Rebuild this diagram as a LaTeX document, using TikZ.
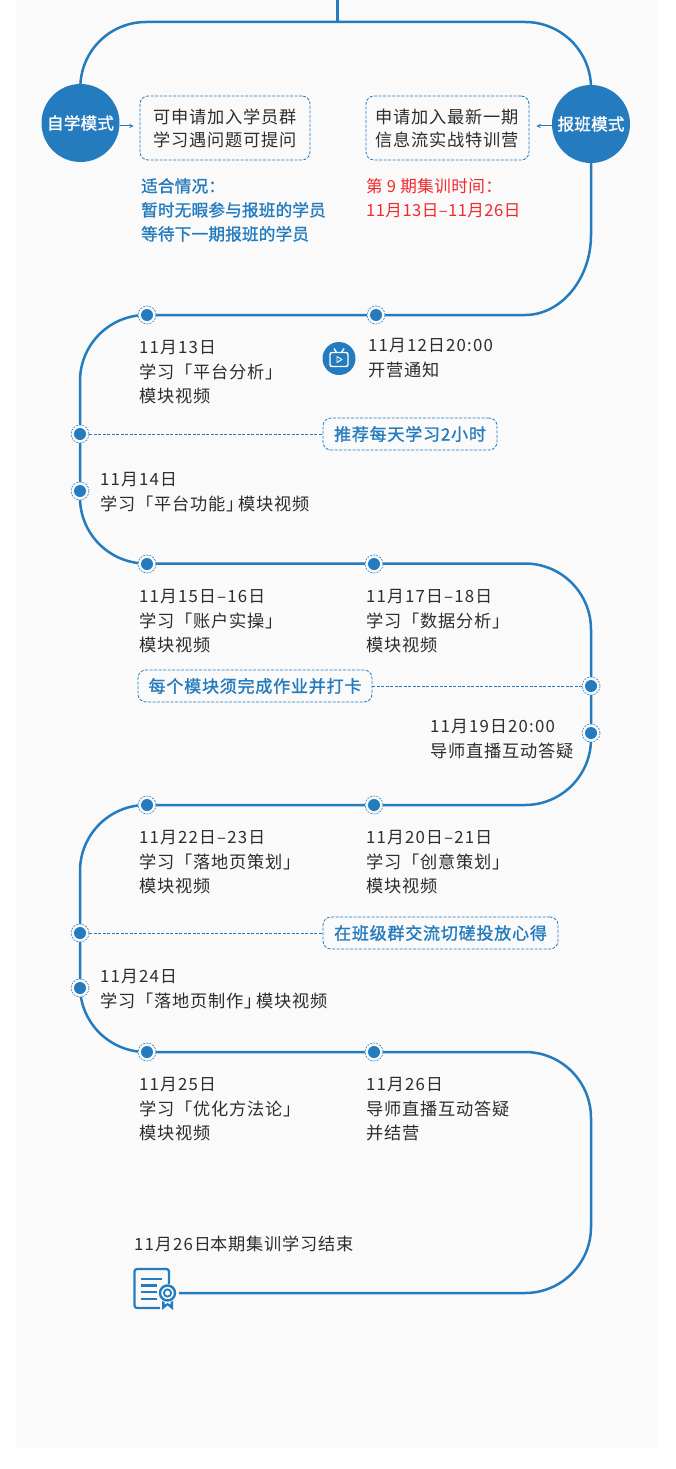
\documentclass[tikz,border=0pt]{standalone}
\usepackage{fontspec}
\setmainfont{Noto Sans CJK SC}[LetterSpace=4.6]
\newfontfamily\hintfont{Noto Sans CJK SC}[LetterSpace=1.2,FakeBold=1.3]
\newfontfamily\tipfont{Noto Sans CJK SC}[LetterSpace=4.7,FakeBold=1.3]
\newfontfamily\termfont{Noto Sans CJK SC}[LetterSpace=2.6]
\newfontfamily\datefont{Noto Sans CJK SC}[LetterSpace=7]
\newcommand{\dateline}[1]{{\datefont\fontsize{16.8}{24.6}\selectfont #1}}
\definecolor{route}{RGB}{36,123,189}
\definecolor{panel}{RGB}{250,250,250}
\definecolor{note}{RGB}{45,45,45}
\definecolor{alert}{RGB}{245,40,45}
\usetikzlibrary{
  arrows.meta,
  positioning      % positions like below of node
}
\tikzset{
  >=stealth,  % arrow type
  mainline/.style = {draw=route, line width=2.5pt, rounded corners=66pt},
  dashlink/.style = {draw=route, line width=0.8pt, dash pattern=on 3pt off 1.5pt},
  smallarrow/.style = {->, draw=route, line width=1pt},
  mode/.style = {circle, fill=route, text=white, minimum size=78pt, inner sep=0pt,
    font=\hintfont\fontsize{16.6}{20}\selectfont},
  infobox/.style = {rectangle, rounded corners=8pt, draw=route, line width=0.8pt,
    dash pattern=on 3pt off 1.5pt, fill=panel, minimum height=64pt, inner sep=0pt,
    align=center, text=note, font=\fontsize{17.2}{23}\selectfont},
  tipbox/.style = {infobox, minimum height=32pt, text=route,
    font=\tipfont\fontsize{17}{20}\selectfont},
  stopdot/.style = {circle, draw=route, line width=0.6pt, dash pattern=on 2pt off 1.2pt,
    fill=panel, minimum size=18pt, inner sep=0pt,
    path picture={\fill[route] (path picture bounding box.center) circle (6pt);}},
  notetext/.style = {anchor=north west, inner sep=0pt, align=left, text=note,
    font=\fontsize{17.2}{24.6}\selectfont},
  hinttext/.style = {notetext, text=route, font=\hintfont\fontsize{16.6}{24}\selectfont},
  alerttext/.style = {notetext, text=alert, font=\termfont\fontsize{16.6}{24}\selectfont},
  iconline/.style = {draw=route, line width=2.2pt, rounded corners=2.5pt}
}
\pgfdeclarelayer{background}
\pgfsetlayers{background,main}

\begin{document}
\begin{tikzpicture}[x=1pt, y=-1pt]

  \useasboundingbox (0,0) rectangle (675,1469);

  %% corners of the route
  \coordinate (start) at (337,0);
  \coordinate (fork) at (337,22);
  \coordinate (forkL) at (80,22);
  \coordinate (forkR) at (591,22);
  \coordinate (bendA) at (591,235);
  \coordinate (bendB) at (525,315);
  \coordinate (turnB) at (80,315);
  \coordinate (turnC) at (80,563.5);
  \coordinate (turnD) at (591,563.5);
  \coordinate (turnE) at (591,805);
  \coordinate (turnF) at (80,805);
  \coordinate (turnG) at (80,1052);
  \coordinate (turnH) at (591,1052);
  \coordinate (turnI) at (591,1293);

  %% nodes
  \node[mode] (SELF) at (80.5,123) {自学模式};
  \node[mode] (CLASS) at (591,124) {报班模式};

  \node[infobox, minimum width=170pt] (SELFBOX) at (225,128) {可申请加入学员群\\学习遇问题可提问};
  \node[infobox, minimum width=163pt] (CLASSBOX) at (447.5,128) {申请加入最新一期\\信息流实战特训营};

  \node[hinttext] (SUITS) at (141,178) {适合情况：\\暂时无暇参与报班的学员\\等待下一期报班的学员};
  \node[alerttext] (TERM) at (366,178) {第 9 期集训时间：\\11月13日–11月26日};

  %% stops
  \node[stopdot] (S1) at (147,315) {};
  \node[stopdot] (S2) at (376,315) {};
  \node[stopdot] (S3) at (80,434) {};
  \node[stopdot] (S4) at (80,491) {};
  \node[stopdot] (S5) at (147,564) {};
  \node[stopdot] (S6) at (374,564) {};
  \node[stopdot] (S7) at (591,686) {};
  \node[stopdot] (S8) at (591,733) {};
  \node[stopdot] (S9) at (147,805) {};
  \node[stopdot] (S10) at (374,805) {};
  \node[stopdot] (S11) at (80,933) {};
  \node[stopdot] (S12) at (80,988) {};
  \node[stopdot] (S13) at (147,1052) {};
  \node[stopdot] (S14) at (374,1052) {};

  %% tips
  \node[tipbox, minimum width=174pt] (TIPA) at (410,434) {推荐每天学习2小时};
  \node[tipbox, minimum width=234pt] (TIPB) at (255,686) {每个模块须完成作业并打卡};
  \node[tipbox, minimum width=235pt] (TIPC) at (440.5,933) {在班级群交流切磋投放心得};

  %% texts
  \node[notetext] (N1) at (139,340) {\dateline{11月13日}\\学习「平台分析」\\模块视频};
  \node[notetext] (N2) at (368,338) {\dateline{11月12日20:00}\\开营通知};
  \node[notetext] (N3) at (100,472) {\dateline{11月14日}\\学习「平台功能」\kern-5pt 模块视频};
  \node[notetext] (N4) at (139,589) {\dateline{11月15日–16日}\\学习「账户实操」\\模块视频};
  \node[notetext] (N5) at (366,589) {\dateline{11月17日–18日}\\学习「数据分析」\\模块视频};
  \node[notetext] (N6) at (430,719) {\dateline{11月19日20:00}\\导师直播互动答疑};
  \node[notetext] (N7) at (139,830) {\dateline{11月22日–23日}\\学习「落地页策划」\\模块视频};
  \node[notetext] (N8) at (366,830) {\dateline{11月20日–21日}\\学习「创意策划」\\模块视频};
  \node[notetext] (N9) at (100,969) {\dateline{11月24日}\\学习「落地页制作」\kern-5pt 模块视频};
  \node[notetext] (N10) at (139,1077) {\dateline{11月25日}\\学习「优化方法论」\\模块视频};
  \node[notetext] (N11) at (366,1077) {\dateline{11月26日}\\导师直播互动答疑\\并结营};
  \node[notetext] (N12) at (134,1236) {\dateline{11月26日}本期集训学习结束};

  %% icons
  \node[circle, fill=route, minimum size=33pt, inner sep=0pt] (TV) at (339,358.5) {};
  \begin{scope}[shift={(TV.center)}]
    \draw[white, line width=1.4pt, rounded corners=2pt] (-9,-6) rectangle (9,8);
    \draw[white, line width=1.4pt] (-5,-10) -- (-2.5,-6) (5,-10) -- (2.5,-6);
    \draw[white, line width=0.9pt, line join=round] (-2,-2) -- (3,1) -- (-2,4) -- cycle;
  \end{scope}

  \node[circle, draw=route, line width=2.4pt, minimum size=15pt, inner sep=0pt] (CERT) at (167.5,1293) {};
  \draw[route, line width=1.8pt] (CERT.center) circle (3.6pt);
  \draw[iconline] (169,1284) -- (169,1269) -- (134.5,1269) -- (134.5,1308) -- (160,1308);
  \draw[route, line width=2.2pt] (141,1279) -- (162,1279) (141,1285.5) -- (157,1285.5)
    (141,1292) -- (157,1292) (141,1299) -- (157,1299);
  \fill[route] (162,1301) -- (162,1310) -- (167.5,1305.5) -- (173,1310) -- (173,1301) -- (170.5,1302)
    -- (170.5,1304.5) -- (167.5,1303) -- (164.5,1304.5) -- (164.5,1302) -- cycle;

  %% arrows
  \begin{pgfonlayer}{background}
    \fill[panel] (16,0) rectangle (657,1448);
    \draw[mainline, line width=3pt, rounded corners=0pt] (start) -- (fork);
    \draw[mainline] (SELF) -- (forkL) -- (forkR) -- (CLASS);
    \draw[mainline, rounded corners=0pt] (CLASS) -- (bendA) .. controls (591,279) and (561,315) .. (bendB);
    \draw[mainline] (bendB) -- (turnB) -- (turnC) -- (turnD) -- (turnE) -- (turnF)
      -- (turnG) -- (turnH) -- (turnI) -- ([xshift=3pt]CERT.east);

    \draw[dashlink] (S3) -- (TIPA);
    \draw[dashlink] (TIPB) -- (S7);
    \draw[dashlink] (S11) -- (TIPC);
  \end{pgfonlayer}

  \draw[smallarrow] ([yshift=-3pt]SELF.east) -- ([yshift=2pt,xshift=-6pt]SELFBOX.west);
  \draw[smallarrow] ([yshift=-2pt]CLASS.west) -- ([yshift=2pt,xshift=7pt]CLASSBOX.east);

\end{tikzpicture}
\end{document}
